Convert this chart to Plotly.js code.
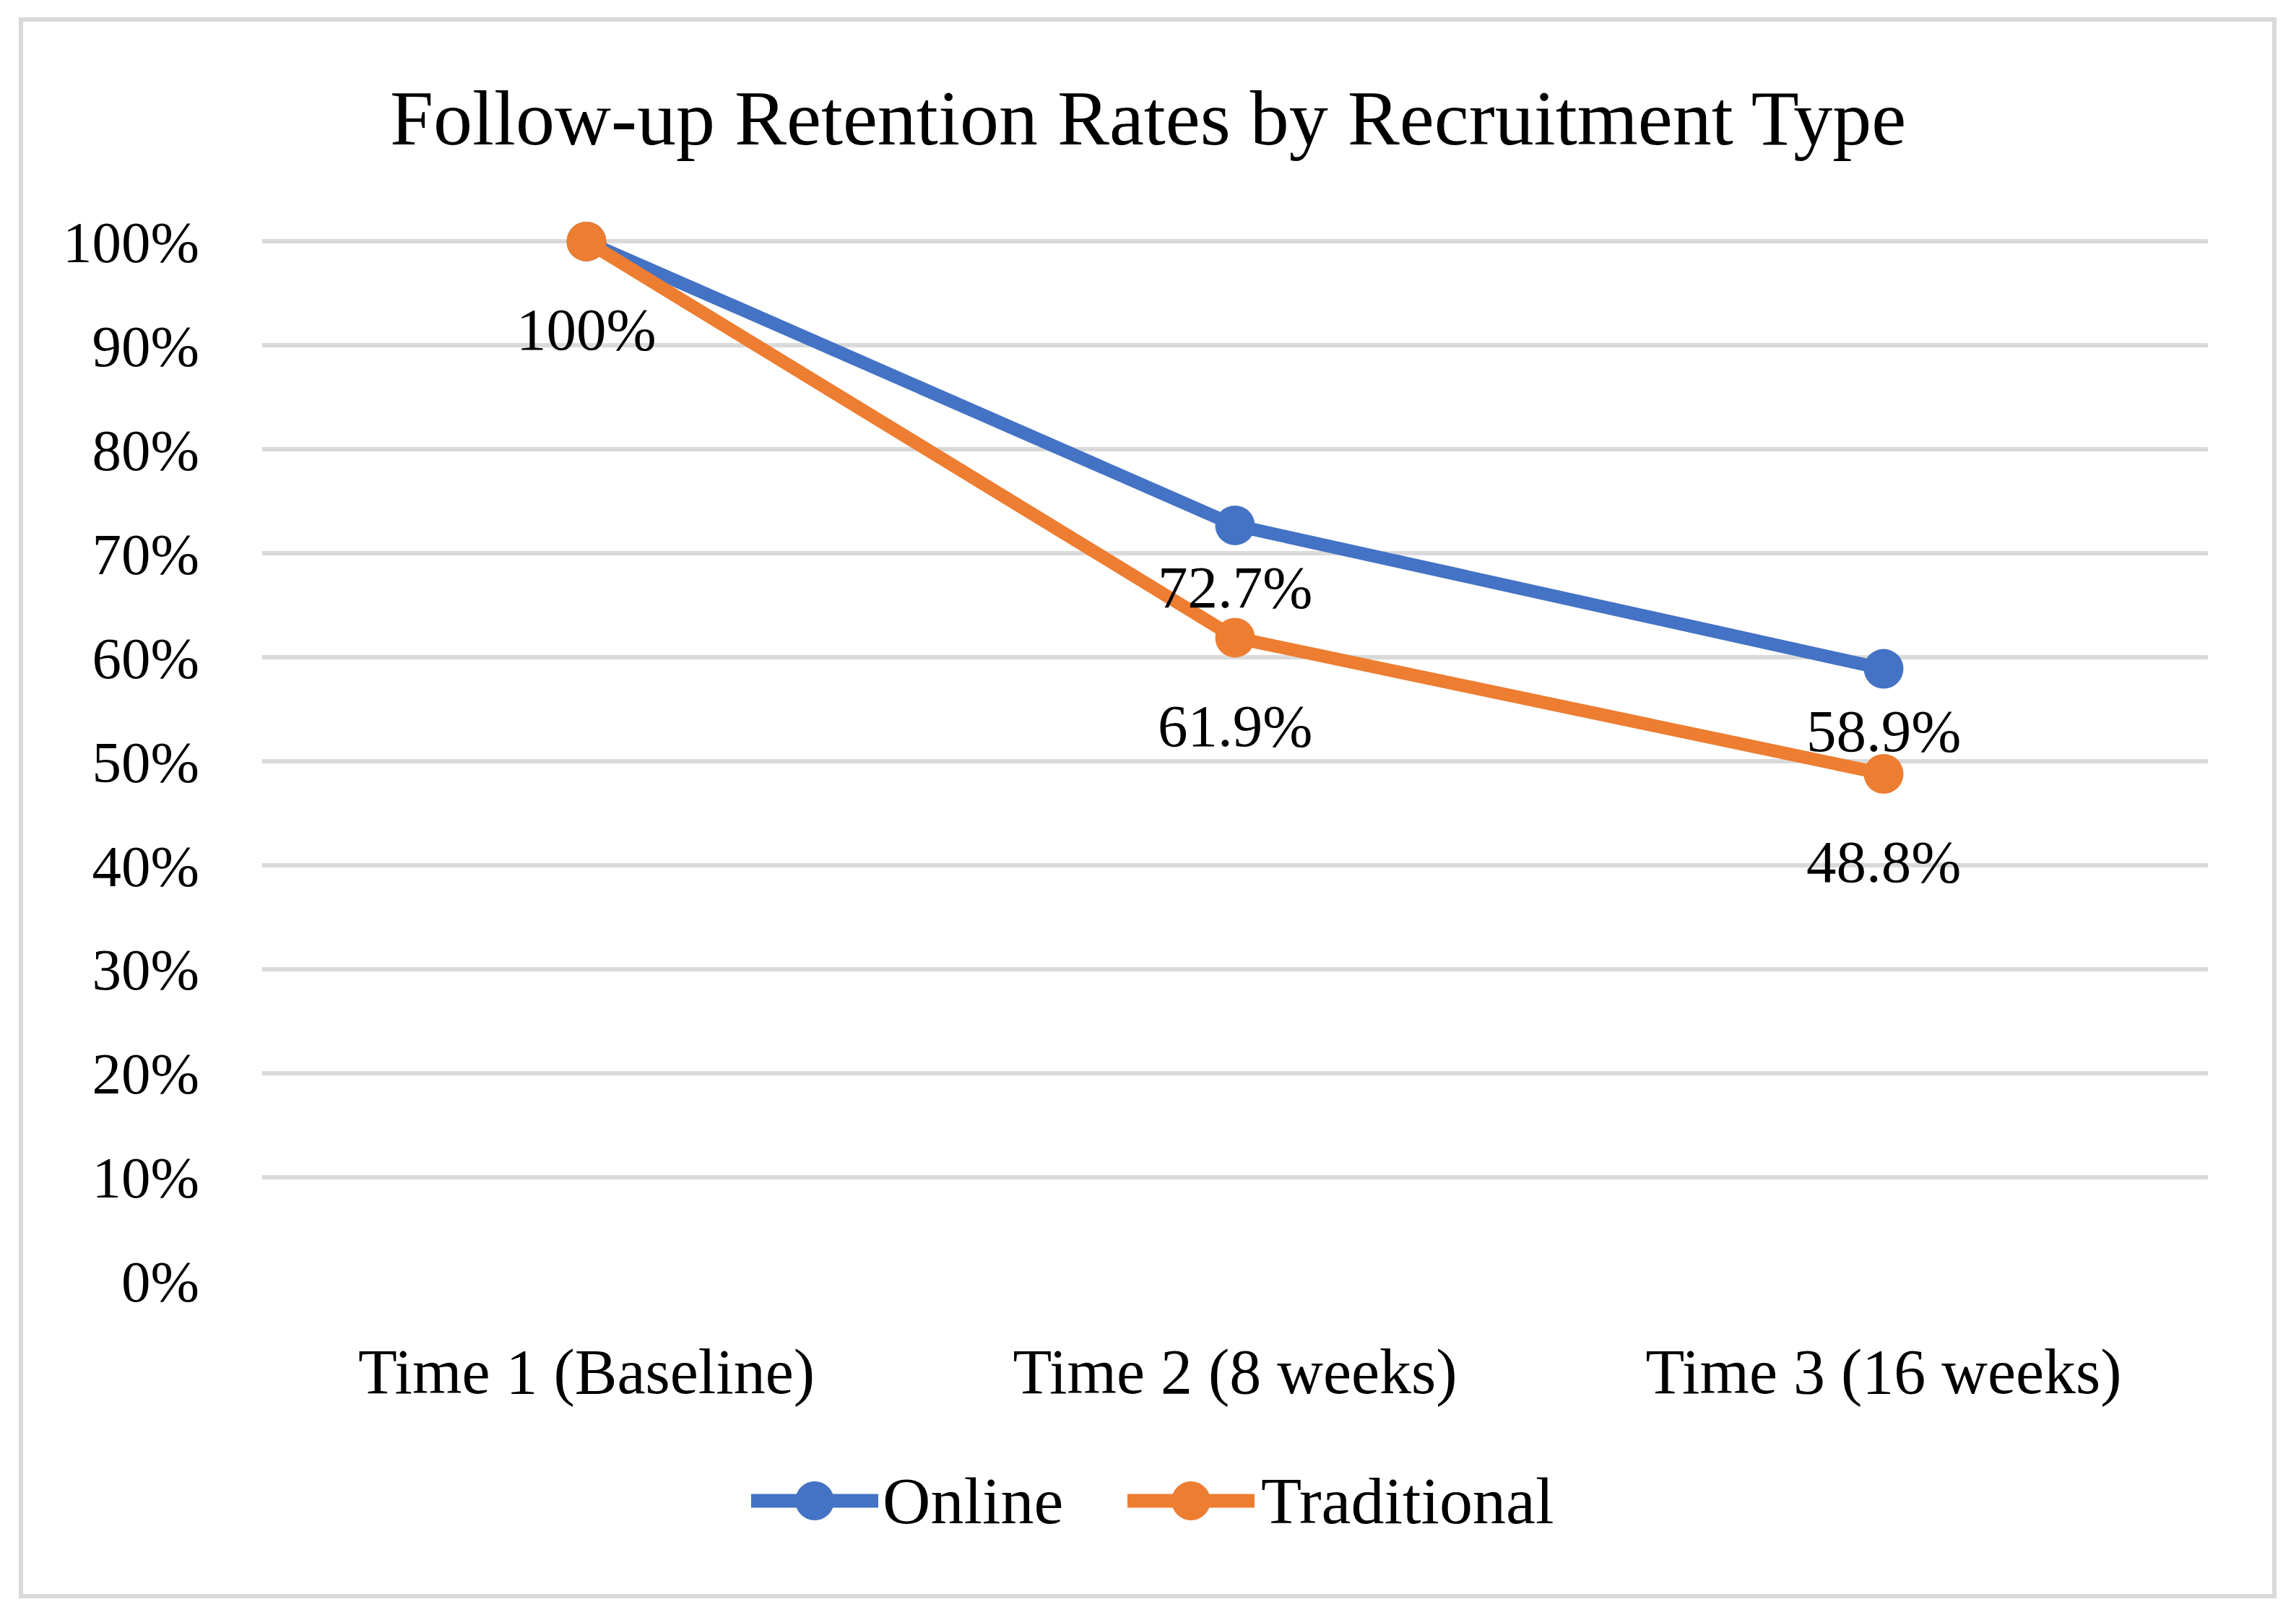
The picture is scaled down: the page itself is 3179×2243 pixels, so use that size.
<!DOCTYPE html>
<html>
<head>
<meta charset="utf-8">
<script src="https://cdn.plot.ly/plotly-3.0.1.min.js"></script>
<style>html,body{margin:0;padding:0;background:#fff;}#chart{width:3179px;height:2243px;}</style>
</head>
<body>
<div id="chart"></div>
<script>
// ---- data ----
const categories = ["Time 1 (Baseline)", "Time 2 (8 weeks)", "Time 3 (16 weeks)"];
const onlineValues = [100, 72.7, 58.9];
const traditionalValues = [100, 61.9, 48.8];
const seriesNames = ["Online", "Traditional"];
const yTickValues = [0, 10, 20, 30, 40, 50, 60, 70, 80, 90, 100];
const chartTitle = "Follow-up Retention Rates by Recruitment Type";

// ---- styling / layout ----
const W = 3179, H = 2243;
const YMAX = 101; // small headroom so the 100% gridline is drawn
const PL = 363, PR = 3057, PB = 1774;
const PT = Math.round(PB - (PB - 334) * YMAX / 100);
const PW = PR - PL, PH = PB - PT;
const colors = ["#4472C4", "#ED7D31"];
const FONT = "'Palatino Linotype','Book Antiqua',Palatino,'Liberation Serif',serif";
const px2x = p => (p - PL) / PW;
const py2y = p => (PB - p) / PH;

const fmt = v => (v === 100 ? "100%" : v.toFixed(1) + "%");

const allSeries = [onlineValues, traditionalValues];
const traces = allSeries.map((vals, i) => ({
  type: "scatter",
  mode: "lines+markers",
  name: seriesNames[i],
  x: categories,
  y: vals,
  line: {color: colors[i], width: 18},
  marker: {color: colors[i], size: 55},
  cliponaxis: false,
  showlegend: false,
  hoverinfo: "skip"
}));

const annotations = [];
const labelFont = {family: FONT, size: 83, color: "#000"};
// Online labels (first one coincides with the Traditional 100% label)
onlineValues.forEach((v, j) => {
  if (j === 0) return;
  annotations.push({x: categories[j], y: v, xref: "x", yref: "y", text: fmt(v), showarrow: false,
    yshift: -86, font: labelFont});
});
traditionalValues.forEach((v, j) => {
  annotations.push({x: categories[j], y: v, xref: "x", yref: "y", text: fmt(v), showarrow: false,
    yshift: -122, font: labelFont});
});

// custom legend
const legendY = py2y(2078);
const legendItems = [
  {x0: 1040, x1: 1216, tx: 1220},
  {x0: 1561, x1: 1737, tx: 1744}
];
const shapes = [];
legendItems.forEach((it, i) => {
  shapes.push({type: "line", xref: "paper", yref: "paper", x0: px2x(it.x0), x1: px2x(it.x1), y0: legendY, y1: legendY,
    line: {color: colors[i], width: 19}});
  const cx = px2x((it.x0 + it.x1) / 2);
  shapes.push({type: "circle", xref: "paper", yref: "paper", xsizemode: "pixel", ysizemode: "pixel",
    xanchor: cx, yanchor: legendY, x0: -27, x1: 27, y0: -27, y1: 27,
    fillcolor: colors[i], line: {width: 0}});
  annotations.push({xref: "paper", yref: "paper", x: px2x(it.tx), y: legendY, xanchor: "left", yanchor: "middle",
    text: seriesNames[i], showarrow: false, font: {family: FONT, size: 92, color: "#000"}});
});
// chart border
shapes.push({type: "rect", xref: "paper", yref: "paper", x0: px2x(29), x1: px2x(3149), y0: py2y(27), y1: py2y(2210),
  line: {color: "#D9D9D9", width: 6}, fillcolor: "rgba(0,0,0,0)", layer: "below"});

const layout = {
  width: W, height: H,
  margin: {l: PL, r: W - PR, t: PT, b: H - PB, pad: 0},
  paper_bgcolor: "#fff", plot_bgcolor: "#fff",
  title: {text: chartTitle, font: {family: FONT, size: 108, color: "#000"}, x: 0.5, xanchor: "center",
    y: 1 - 162 / H, yanchor: "middle", yref: "container"},
  showlegend: false,
  xaxis: {type: "category", range: [-0.5, 2.5], showgrid: false, zeroline: false, showline: false, ticks: "",
    tickfont: {family: FONT, size: 88, color: "#000"}, ticklabelstandoff: 66, fixedrange: true},
  yaxis: {range: [0, YMAX], tickvals: yTickValues, ticktext: yTickValues.map(v => v + "%"),
    showgrid: true, gridcolor: "#D9D9D9", gridwidth: 6, zeroline: false, showline: false, ticks: "",
    tickfont: {family: FONT, size: 81, color: "#000"}, ticklabelstandoff: 86, fixedrange: true},
  annotations: annotations,
  shapes: shapes
};

Plotly.newPlot("chart", traces, layout, {displayModeBar: false, staticPlot: true});
</script>
</body>
</html>
